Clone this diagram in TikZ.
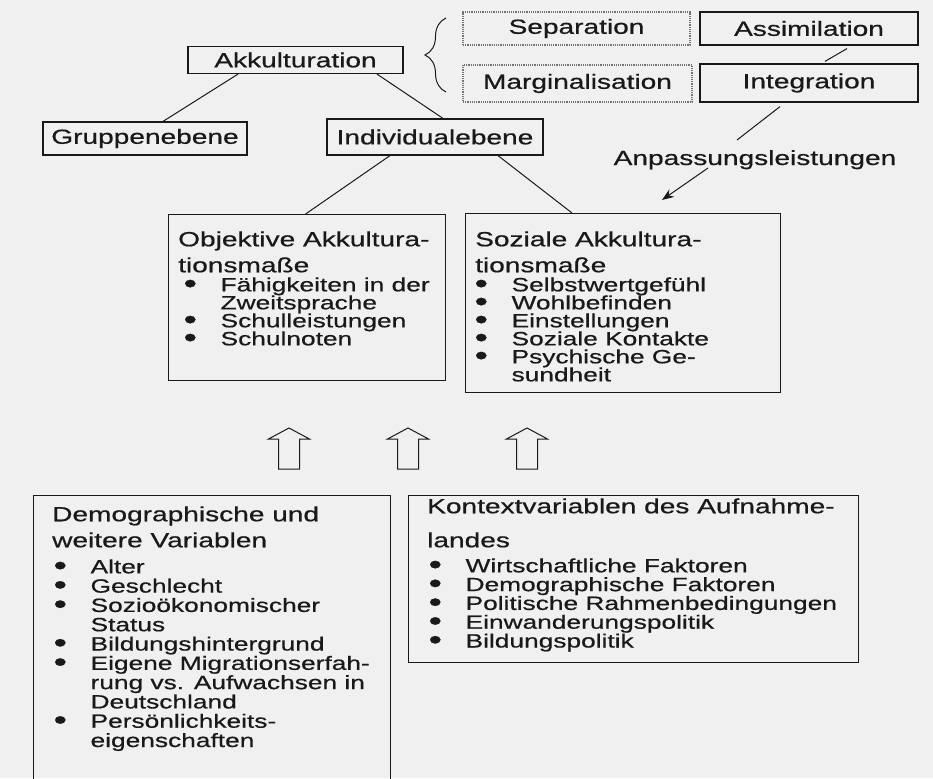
\documentclass[tikz,border=0pt]{standalone}
\usepackage{fontspec}
\setmainfont{Liberation Sans}[FakeStretch=1.37, FakeBold=0.6]
\usetikzlibrary{arrows.meta,positioning,decorations.pathreplacing}
\definecolor{paper}{rgb}{0.94,0.94,0.94}
\definecolor{ink}{rgb}{0.1,0.1,0.1}
\newcommand{\bigtxt}{\fontsize{20.5}{26}\selectfont}
\newcommand{\blt}{\makebox[37pt][l]{\raisebox{-1.5pt}{\scalebox{1.45}{\textbullet}}}}
\newcommand{\bltgap}{\hspace*{37pt}}
\tikzset{
  listtxt/.style={font=\fontsize{19.2}{#1}\selectfont, align=left, anchor=north west},
  hollowup/.pic={\draw[ink, line width=1pt] (-10.5,0) -- (-10.5,-30) -- (-20.5,-30) -- (0,-41) -- (20.5,-30) -- (10.5,-30) -- (10.5,0) -- cycle;}
}
\begin{document}
\begin{tikzpicture}[x=1pt,y=-1pt]
  \tikzstyle{every node}+=[inner sep=0pt, text=ink]
  \tikzstyle{labbox}=[draw=ink, line width=1.2pt, font=\bigtxt]
  \tikzstyle{dotbox}=[labbox, draw=black!55, densely dotted]
  \tikzstyle{bigbox}=[draw=ink, line width=1.2pt, anchor=north west]
  \tikzstyle{headtxt}=[font=\bigtxt, align=left, anchor=north west]
  \tikzstyle{line}=[ink, line width=1pt]
  \useasboundingbox (0,0) rectangle (933,778);
  \clip (0,0) rectangle (933,778);
  \fill[paper] (0,0) rectangle (933,778);

  % upper part
  \node[labbox, minimum width=215pt, minimum height=27pt] (akk) at (295.5,60) {Akkulturation};
  \node[labbox, minimum width=204pt, minimum height=33pt] (grp) at (145,138.5) {Gruppenebene};
  \node[labbox, minimum width=216pt, minimum height=36pt] (ind) at (435,137) {Individualebene};
  \node[dotbox, minimum width=227pt, minimum height=33pt] (sep) at (576.5,28.5) {Separation};
  \node[dotbox, minimum width=229pt, minimum height=37pt] (marg) at (577.5,83.5) {Marginalisation};
  \node[labbox, minimum width=218pt, minimum height=33pt] (assim) at (809,28.5) {Assimilation};
  \node[labbox, minimum width=218pt, minimum height=38pt] (integ) at (809,83) {Integration};
  \node[font=\bigtxt, anchor=base] (anp) at (755,165) {Anpassungsleistungen};
  \coordinate (bracetop) at (446,18);
  \coordinate (bracebot) at (446,92);
  \draw[line, decorate, decoration={brace, amplitude=21pt}] (bracebot) -- (bracetop);

  \draw[line] ([xshift=-57.5]akk.south) -- ([xshift=18]grp.north);
  \draw[line] ([xshift=81.5]akk.south) -- ([xshift=8]ind.north);
  \draw[line] ([shift={(38,3)}]assim.south) -- ([shift={(16,-2)}]integ.north);
  \draw[line] ([shift={(-29,4)}]integ.south) -- ([shift={(-18,-25)}]anp.base);

  % measures
  \node[bigbox, minimum width=277pt, minimum height=166pt] (objbox) at (168,214) {};
  \node[bigbox, minimum width=315pt, minimum height=179pt] (sozbox) at (465,213) {};
  \node[headtxt] (objhead) at ([shift={(10,17.2)}]objbox.north west) {Objektive Akkultura-\\tionsmaße};
  \node[headtxt] (sozhead) at ([shift={(10,18.2)}]sozbox.north west) {Soziale Akkultura-\\tionsmaße};
  \node[listtxt=18] (objlist) at ([shift={(15.4,63.2)}]objbox.north west)
    {\blt Fähigkeiten in der\\\bltgap Zweitsprache\\\blt Schulleistungen\\\blt Schulnoten};
  \node[listtxt=18] (sozlist) at ([shift={(9.4,64.2)}]sozbox.north west)
    {\blt Selbstwertgefühl\\\blt Wohlbefinden\\\blt Einstellungen\\\blt Soziale Kontakte\\\blt Psychische Ge-\\\bltgap sundheit};

  \draw[line] ([xshift=-45]ind.south) -- ([xshift=-1.5]objbox.north);
  \draw[line] ([xshift=63]ind.south) -- ([xshift=107]sozbox.north west);
  \draw[line, -{Stealth[length=12pt, width=9pt]}] ([shift={(-47,3)}]anp.base) -- ([shift={(197,-13)}]sozbox.north west);

  \pic (upA) at (289,469) {hollowup};
  \pic (upB) at (408,469) {hollowup};
  \pic (upC) at (527,469) {hollowup};

  % lower part
  \node[bigbox, minimum width=357pt, minimum height=310pt] (demobox) at (33,495) {};
  \node[bigbox, minimum width=450pt, minimum height=167pt] (kontbox) at (408,495) {};
  \node[headtxt] (demohead) at ([shift={(19,11.2)}]demobox.north west) {Demographische und\\weitere Variablen};
  \node[headtxt, font=\fontsize{20.5}{34}\selectfont] (konthead) at ([shift={(19,3.2)}]kontbox.north west) {Kontextvariablen des Aufnahme-\\landes};
  \node[listtxt=19.3] (demolist) at ([shift={(20.4,64.2)}]demobox.north west)
    {\blt Alter\\\blt Geschlecht\\\blt Sozioökonomischer\\\bltgap Status\\\blt Bildungshintergrund\\\blt Eigene Migrationserfah-\\\bltgap rung vs. Aufwachsen in\\\bltgap Deutschland\\\blt Persönlichkeits-\\\bltgap eigenschaften};
  \node[listtxt=18.8] (kontlist) at ([shift={(20.4,63.2)}]kontbox.north west)
    {\blt Wirtschaftliche Faktoren\\\blt Demographische Faktoren\\\blt Politische Rahmenbedingungen\\\blt Einwanderungspolitik\\\blt Bildungspolitik};
\end{tikzpicture}
\end{document}
